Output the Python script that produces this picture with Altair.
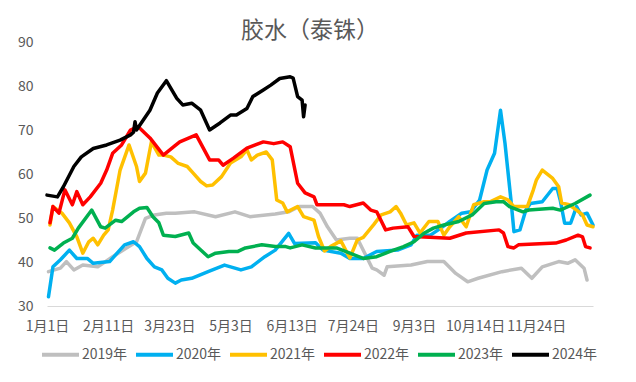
import json
import altair as alt
import pandas as pd

# ---- data (day of year, value) ----
series_names = ["2019年", "2020年", "2021年", "2022年", "2023年", "2024年"]
series_colors = ["#BFBFBF", "#00B0F0", "#FFC000", "#FF0000", "#00B050", "#000000"]

tick_days = [0, 41, 82, 123, 164, 205, 246, 287, 328]
tick_labels = ["1月1日", "2月11日", "3月23日", "5月3日", "6月13日", "7月24日", "9月3日", "10月14日", "11月24日"]

d2019 = [1, 9, 13, 18, 24, 34, 44, 53, 60, 66, 72, 80, 86, 99, 113, 126, 136, 153, 162, 169, 178, 183, 188, 194,
         203, 208, 213, 218, 221, 226, 228, 244, 255, 266, 274, 282, 289, 305, 318, 325, 332, 343, 349, 354, 360, 362]
v2019 = [37.8, 38.6, 40.1, 38.2, 39.3, 38.9, 41.2, 43.1, 44.6, 49.9, 50.7, 51.1, 51.1, 51.4, 50.3, 51.4, 50.3, 50.9,
         51.4, 52.6, 52.6, 51.1, 48.0, 45.0, 45.4, 45.4, 42.0, 38.6, 38.2, 37.0, 38.9, 39.3, 40.1, 40.1, 37.4, 35.5,
         36.3, 37.8, 38.6, 36.3, 38.9, 40.1, 39.7, 40.5, 38.6, 35.9]

d2020 = [1, 4, 9, 15, 20, 27, 31, 42, 47, 52, 58, 62, 67, 72, 77, 81, 86, 90, 97, 108, 119, 130, 137, 146, 153, 162,
         166, 180, 185, 197, 203, 212, 221, 235, 244, 248, 257, 264, 270, 278, 284, 290, 295, 300, 304, 307, 311, 313,
         317, 321, 324, 332, 339, 342, 344, 347, 351, 355, 358, 362, 366]
v2020 = [32.1, 38.9, 40.5, 42.7, 40.8, 40.8, 39.7, 40.1, 42.0, 43.9, 44.6, 43.5, 40.8, 38.9, 38.2, 36.3, 35.2, 35.9,
         36.3, 37.8, 39.3, 38.2, 38.9, 41.2, 42.7, 46.5, 44.2, 44.4, 42.7, 42.0, 40.8, 40.8, 42.4, 42.7, 43.9, 46.1,
         46.1, 47.7, 49.2, 51.1, 51.4, 54.1, 60.9, 64.7, 74.5, 67.0, 54.1, 46.9, 47.3, 51.8, 53.3, 53.7, 56.7, 56.7,
         54.1, 48.8, 48.8, 52.6, 50.7, 51.1, 48.4]

d2021 = [2, 4, 10, 15, 20, 24, 28, 31, 34, 38, 41, 44, 49, 55, 60, 62, 66, 70, 75, 78, 83, 88, 94, 98, 103, 107, 111,
         117, 123, 130, 134, 137, 141, 147, 151, 154, 158, 161, 168, 172, 179, 182, 186, 190, 197, 203, 208, 212, 219,
         224, 230, 234, 237, 241, 246, 250, 256, 262, 266, 270, 276, 281, 286, 293, 297, 304, 309, 313, 322, 326, 328,
         332, 339, 343, 345, 350, 355, 359, 362, 366]
v2021 = [48.4, 52.6, 51.1, 48.9, 45.7, 42.0, 44.6, 45.4, 43.9, 46.1, 47.3, 51.8, 60.9, 66.6, 61.7, 58.3, 60.2, 67.3,
         64.3, 64.3, 63.9, 62.4, 61.7, 60.2, 58.3, 57.3, 57.5, 59.4, 62.5, 63.9, 65.5, 63.2, 64.3, 65.0, 63.2, 54.1,
         53.4, 51.4, 52.6, 50.3, 49.5, 45.8, 42.5, 43.5, 44.8, 40.9, 45.0, 45.6, 48.5, 50.7, 51.4, 52.6, 51.1, 48.4,
         48.9, 46.6, 49.2, 49.2, 46.1, 48.0, 50.3, 48.0, 53.0, 53.7, 53.7, 54.8, 54.1, 52.6, 52.6, 56.4, 58.6, 60.9,
         59.0, 57.1, 53.4, 53.0, 51.8, 50.7, 48.4, 48.0]

d2022 = [2, 4, 8, 12, 17, 20, 24, 29, 36, 40, 44, 50, 56, 61, 69, 78, 85, 89, 100, 109, 115, 118, 125, 134, 145, 152,
         158, 163, 168, 173, 179, 181, 199, 203, 212, 217, 221, 227, 232, 242, 246, 270, 281, 303, 306, 309, 313, 316,
         341, 348, 356, 359, 361, 364]
v2022 = [48.9, 52.6, 51.1, 56.4, 53.0, 56.0, 53.0, 54.8, 57.9, 60.9, 64.7, 66.6, 70.0, 70.8, 68.2, 64.3, 66.2, 67.3,
         68.9, 63.2, 63.2, 62.0, 63.6, 65.9, 67.3, 66.9, 67.3, 66.2, 57.9, 55.7, 54.8, 53.0, 53.0, 52.6, 53.4, 51.8,
         51.4, 47.3, 47.7, 48.0, 45.8, 45.4, 46.6, 47.3, 46.6, 43.5, 43.2, 43.9, 44.3, 45.0, 46.1, 45.7, 43.5, 43.2]

d2023 = [2, 5, 11, 17, 21, 30, 36, 39, 46, 50, 58, 62, 67, 71, 75, 78, 86, 95, 98, 108, 113, 122, 128, 133, 144, 153,
         160, 163, 171, 180, 185, 194, 203, 212, 221, 230, 239, 246, 253, 259, 266, 276, 285, 293, 301, 306, 310, 319,
         323, 339, 344, 354, 364]
v2023 = [43.2, 42.7, 44.3, 45.4, 47.7, 51.8, 48.0, 47.7, 49.5, 49.2, 51.4, 52.2, 52.4, 50.3, 48.9, 46.1, 45.8, 46.6,
         44.3, 41.2, 42.0, 42.4, 42.4, 43.2, 43.9, 43.5, 43.5, 43.2, 43.9, 43.2, 43.2, 43.2, 42.0, 40.8, 41.2, 42.4,
         43.5, 44.6, 46.6, 47.7, 48.4, 49.2, 50.7, 53.3, 53.7, 53.7, 52.6, 51.4, 51.8, 52.2, 51.8, 53.3, 55.2]

d2024 = [0, 7, 11, 18, 23, 31, 40, 49, 56, 58, 59, 60, 69, 74, 80, 87, 91, 97, 103, 109, 116, 123, 127, 134, 138, 145,
         150, 156, 163, 165, 168, 171, 172, 173]
v2024 = [55.2, 54.8, 57.1, 61.7, 63.9, 65.8, 66.6, 67.7, 68.9, 69.5, 71.9, 70.0, 74.5, 78.4, 81.2, 77.2, 75.7, 76.1,
         74.5, 70.0, 71.6, 73.4, 73.4, 74.9, 77.6, 79.1, 80.2, 81.7, 82.1, 81.8, 77.6, 76.8, 73.0, 75.7]

all_days = [d2019, d2020, d2021, d2022, d2023, d2024]
all_vals = [v2019, v2020, v2021, v2022, v2023, v2024]

rows = []
for name, ds, vs in zip(series_names, all_days, all_vals):
    for i, (d, v) in enumerate(zip(ds, vs)):
        rows.append({"series": name, "day": d, "value": v, "order": i})
df = pd.DataFrame(rows)

FONT = "Noto Sans CJK SC"
label_expr = json.dumps(tick_labels, ensure_ascii=False) + "[round(datum.value / 41)]"

chart = alt.Chart(df).mark_line(strokeWidth=3.5, strokeCap="round", strokeJoin="round").encode(
    x=alt.X("day:Q",
            scale=alt.Scale(domain=[0, 366], nice=False, zero=False),
            axis=alt.Axis(values=tick_days, labelExpr=label_expr, title=None, ticks=False, grid=False,
                          domainColor="#D9D9D9", domainWidth=1, labelColor="#595959", labelFontSize=14,
                          labelFont=FONT, labelPadding=13, labelOverlap=False, labelFlush=False)),
    y=alt.Y("value:Q",
            scale=alt.Scale(domain=[30, 90], nice=False, zero=False),
            axis=alt.Axis(values=[30, 40, 50, 60, 70, 80, 90], title=None, ticks=False, grid=False,
                          domain=False, labelColor="#595959", labelFontSize=14, labelFont=FONT,
                          labelPadding=14)),
    color=alt.Color("series:N",
                    scale=alt.Scale(domain=series_names, range=series_colors),
                    legend=alt.Legend(title=None, orient="none", direction="horizontal",
                                      legendX=-7, legendY=292, symbolType="stroke",
                                      symbolStrokeWidth=4, symbolSize=1369, labelFontSize=14,
                                      labelFont=FONT, labelColor="#595959", labelOffset=1,
                                      columnPadding=0)),
    order=alt.Order("order:Q"),
).properties(
    width=546,
    height=264,
    padding={"left": 39, "top": 34, "right": 35, "bottom": 60},
    autosize=alt.AutoSizeParams(type="none"),
    title=alt.TitleParams("胶水（泰铢）", font=FONT, fontSize=23, fontWeight="normal",
                          color="#595959", anchor="middle", dx=-10, offset=-8),
).configure_view(stroke=None)

chart.save("out.html", embed_options={"renderer": "svg", "actions": False})
